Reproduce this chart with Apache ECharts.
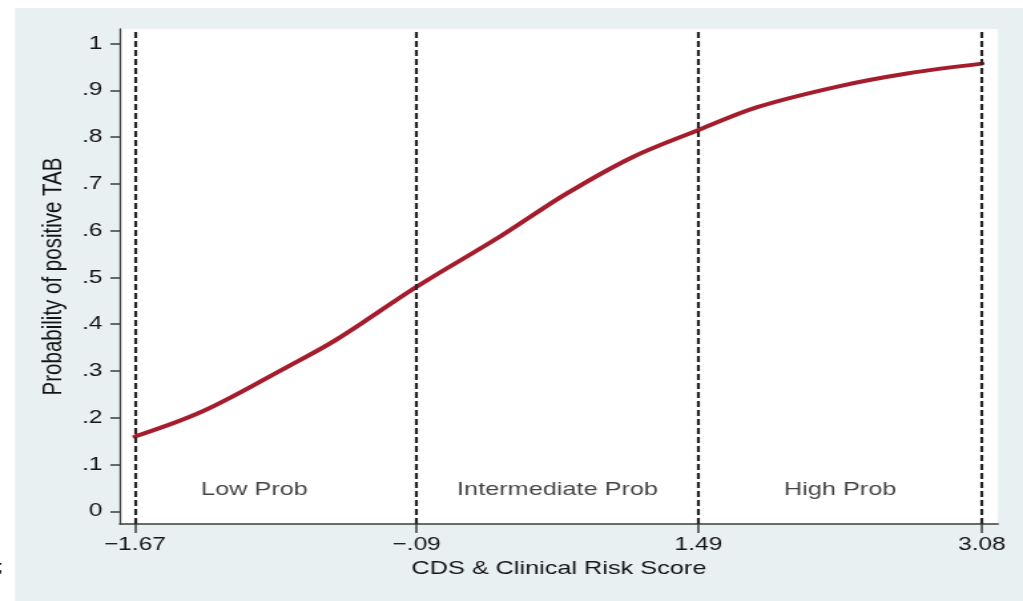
<!DOCTYPE html>
<html>
<head>
<meta charset="utf-8">
<script src="https://cdn.jsdelivr.net/npm/echarts@6/dist/echarts.min.js"></script>
<style>
  html, body { margin: 0; padding: 0; background: #ffffff; overflow: hidden; }
  /* the figure is laid out narrow and widened horizontally, like the printed plot */
  #chart { width: 769px; height: 601px; transform: scaleX(1.3303); transform-origin: 0 0; }
</style>
</head>
<body>
<div id="chart"></div>
<script>
// Predicted probability of a positive TAB along the combined score
const scoreX = [-1.67, -1.29, -0.82, -0.54, -0.09, 0.38, 0.75, 1.12, 1.49, 1.82, 2.27, 2.66, 3.08];
const probY  = [0.160, 0.214, 0.308, 0.367, 0.480, 0.588, 0.679, 0.757, 0.815, 0.864, 0.908, 0.936, 0.957];

// Score cut-offs separating the risk groups, and their tick labels
const cutoffs = [-1.67, -0.09, 1.49, 3.08];
const cutoffLabels = ['\u22121.67', '\u2212.09', '1.49', '3.08'];

// Probability axis ticks
const yTicks = [0, 0.1, 0.2, 0.3, 0.4, 0.5, 0.6, 0.7, 0.8, 0.9, 1];
const yTickLabels = ['0', '.1', '.2', '.3', '.4', '.5', '.6', '.7', '.8', '.9', '1'];

// Group names written inside each band
const regionNames = ['Low Prob', 'Intermediate Prob', 'High Prob'];
const regionX = [-1.0, 0.70, 2.285];
const regionY = [0.046, 0.046, 0.046];

const FONT = '"Liberation Sans", Arial, Helvetica, sans-serif';
const INK = '#141414';
const AXIS = '#3c3c3c';

function nearestIndex(arr, v) {
  let best = 0;
  for (let i = 1; i < arr.length; i++) {
    if (Math.abs(arr[i] - v) < Math.abs(arr[best] - v)) best = i;
  }
  return best;
}

const chart = echarts.init(document.getElementById('chart'), null, { renderer: 'canvas' });

chart.setOption({
  animation: false,
  backgroundColor: '#ffffff',
  graphic: [
    {
      type: 'rect', z: -10, silent: true,
      shape: { x: 11.3, y: 8, width: 800, height: 600 },
      style: { fill: '#e8f0f2' }
    },
    {
      type: 'text', z: 10, silent: true,
      x: -2, y: 568,
      style: { text: ';', font: '16px ' + FONT, fill: INK, verticalAlign: 'middle', align: 'left' }
    }
  ],
  grid: {
    left: 90, right: 18.8, top: 29, bottom: 77,
    show: true, backgroundColor: '#ffffff', borderWidth: 0
  },
  xAxis: {
    type: 'value',
    min: -1.755, max: 3.17,
    name: 'CDS & Clinical Risk Score',
    nameLocation: 'middle',
    nameGap: 35,
    nameTextStyle: { fontFamily: FONT, fontSize: 19, color: INK },
    axisLine: { show: true, onZero: false, lineStyle: { color: AXIS, width: 1.5 } },
    axisTick: { show: true, length: 9, customValues: cutoffs, lineStyle: { color: AXIS, width: 1.5 } },
    axisLabel: {
      show: true, margin: 12, customValues: cutoffs,
      fontFamily: FONT, fontSize: 18.4, color: INK,
      formatter: v => cutoffLabels[nearestIndex(cutoffs, v)]
    },
    splitLine: { show: false }
  },
  yAxis: {
    type: 'value',
    min: -0.027, max: 1.031,
    name: 'Probability of positive TAB',
    nameLocation: 'middle',
    nameGap: 38,
    nameRotate: 90,
    nameTextStyle: { fontFamily: FONT, fontSize: 20.5, color: INK },
    axisLine: { show: true, onZero: false, lineStyle: { color: AXIS, width: 1.3 } },
    axisTick: { show: true, length: 7, customValues: yTicks, lineStyle: { color: AXIS, width: 1.5 } },
    axisLabel: {
      show: true, margin: 13, customValues: yTicks,
      fontFamily: FONT, fontSize: 18.4, color: INK,
      formatter: v => yTickLabels[nearestIndex(yTicks, v)]
    },
    splitLine: { show: false }
  },
  series: [
    {
      name: 'Probability',
      type: 'line',
      data: scoreX.map((x, i) => [x, probY[i]]),
      smooth: 0.35,
      showSymbol: false,
      lineStyle: { color: '#a51d2d', width: 4, cap: 'round', join: 'round' },
      z: 3,
      markLine: {
        silent: true,
        symbol: ['none', 'none'],
        label: { show: false },
        lineStyle: { color: '#262626', width: 2.2, type: [6, 3] },
        data: cutoffs.map(v => ({ xAxis: v }))
      }
    },
    {
      name: 'Groups',
      type: 'scatter',
      symbolSize: 0,
      silent: true,
      data: regionNames.map((n, i) => ({ name: n, value: [regionX[i], regionY[i]] })),
      label: {
        show: true, position: 'inside',
        formatter: p => p.name,
        fontFamily: FONT, fontSize: 19, color: INK
      }
    }
  ]
});
</script>
</body>
</html>
